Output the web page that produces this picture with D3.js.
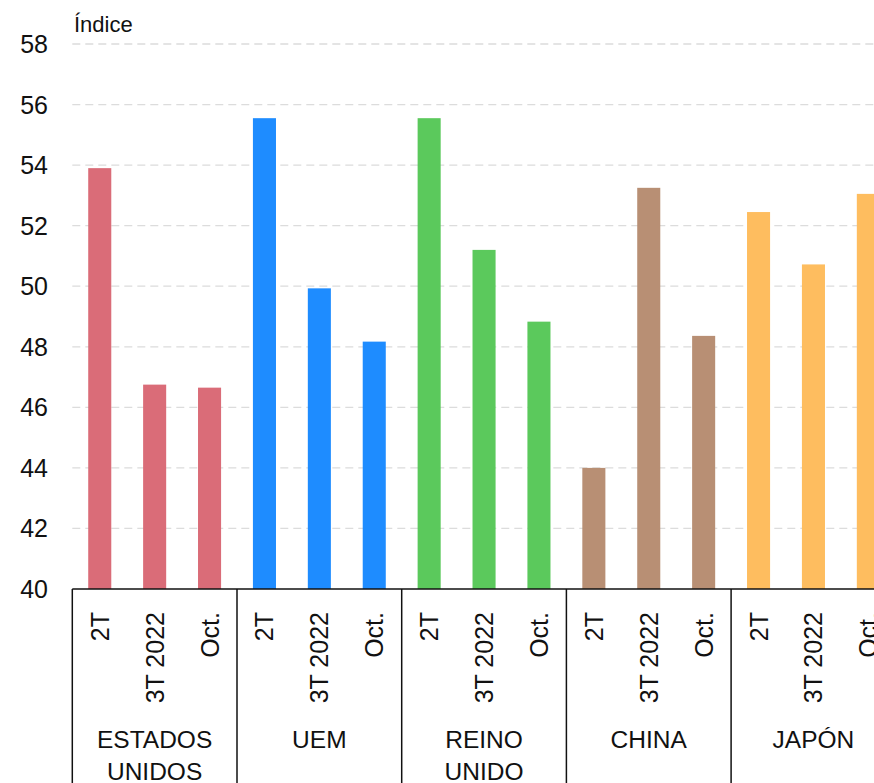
<!DOCTYPE html>
<html lang="es">
<head>
  <meta charset="utf-8">
  <title>Índice por país</title>
  <script src="https://d3js.org/d3.v7.min.js"></script>
  <style>
    body { margin: 0; background: #fff; }
    text { font-family: "Liberation Sans", Arial, sans-serif; fill: #111; }
  </style>
</head>
<body>
<script type="text/javascript">

  // datos
  var paises = ["ESTADOS UNIDOS", "UEM", "REINO UNIDO", "CHINA", "JAPÓN"];
  var periodos = ["2T", "3T 2022", "Oct."];
  var valores = [
    [53.9, 46.75, 46.65],
    [55.55, 49.93, 48.17],
    [55.55, 51.2, 48.83],
    [44.0, 53.25, 48.36],
    [52.45, 50.72, 53.05]
  ];
  var colores = ["#DA6C78", "#1E8CFF", "#5BC95C", "#B88F74", "#FEBD5F"];
  var ticksY = [40, 42, 44, 46, 48, 50, 52, 54, 56, 58];

  var width = 874;
  var height = 783;
  var margenIzq = 72.3, base = 589, techo = 44;
  var anchoGrupo = 164.7;

  var svg = d3.select("body").append("svg")
      .attr("width", width)
      .attr("height", height);

  var x0 = d3.scaleBand()
      .domain(paises)
      .range([margenIzq, margenIzq + anchoGrupo * paises.length]);

  var x1 = d3.scaleBand()
      .domain(periodos)
      .range([0, x0.bandwidth()])
      .paddingInner(0.58)
      .paddingOuter(0.29);

  var y = d3.scaleLinear().domain([40, 58]).range([base, techo]);

  // lineas de la cuadricula
  svg.selectAll(".grid")
      .data(ticksY.filter(function(d){ return d > 40; }))
      .enter().append("line")
      .attr("x1", margenIzq).attr("x2", width)
      .attr("y1", function(d){ return y(d); })
      .attr("y2", function(d){ return y(d); })
      .attr("stroke", "#dcdcdc")
      .attr("stroke-width", 1.3)
      .attr("stroke-dasharray", "8,5");

  // etiquetas eje y
  svg.selectAll(".ytick")
      .data(ticksY)
      .enter().append("text")
      .attr("x", 48)
      .attr("y", function(d){ return y(d); })
      .attr("dy", "0.36em")
      .attr("text-anchor", "end")
      .style("font-size", "25px")
      .text(function(d){ return d; });

  svg.append("text")
      .attr("x", 74)
      .attr("y", 32)
      .style("font-size", "22px")
      .text("Índice");

  // barras
  var grupos = svg.selectAll(".grupo")
      .data(paises)
      .enter().append("g")
      .attr("transform", function(d){ return "translate(" + x0(d) + ",0)"; });

  grupos.selectAll("rect")
      .data(function(d, i){
        return periodos.map(function(p, j){ return {p: p, v: valores[i][j], c: colores[i]}; });
      })
      .enter().append("rect")
      .attr("x", function(d){ return x1(d.p); })
      .attr("width", x1.bandwidth())
      .attr("y", function(d){ return y(d.v); })
      .attr("height", function(d){ return base - y(d.v); })
      .attr("fill", function(d){ return d.c; });

  // etiquetas de periodo (rotadas)
  grupos.selectAll(".per")
      .data(periodos)
      .enter().append("text")
      .attr("transform", function(d){
        return "translate(" + (x1(d) + x1.bandwidth() / 2) + ",612) rotate(-90)";
      })
      .attr("dy", "0.36em")
      .attr("text-anchor", "end")
      .style("font-size", "25px")
      .text(function(d){ return d; });

  // nombres de pais, en dos lineas si hace falta
  grupos.append("text")
      .attr("x", x0.bandwidth() / 2)
      .attr("y", 748)
      .attr("text-anchor", "middle")
      .style("font-size", "24.5px")
      .each(function(d){
        var palabras = d.split(" ");
        var t = d3.select(this);
        if (palabras.length > 1) {
          t.append("tspan").attr("x", x0.bandwidth() / 2).text(palabras[0]);
          t.append("tspan").attr("x", x0.bandwidth() / 2).attr("dy", 32).text(palabras.slice(1).join(" "));
        } else {
          t.text(d);
        }
      });

  // linea base y separadores
  svg.append("line")
      .attr("x1", margenIzq).attr("x2", width)
      .attr("y1", base).attr("y2", base)
      .attr("stroke", "#111").attr("stroke-width", 1.5);

  svg.selectAll(".sep")
      .data(paises.concat(["fin"]))
      .enter().append("line")
      .attr("x1", function(d, i){ return margenIzq + i * x0.bandwidth(); })
      .attr("x2", function(d, i){ return margenIzq + i * x0.bandwidth(); })
      .attr("y1", base).attr("y2", height)
      .attr("stroke", "#111").attr("stroke-width", 1.5);

</script>
</body>
</html>
